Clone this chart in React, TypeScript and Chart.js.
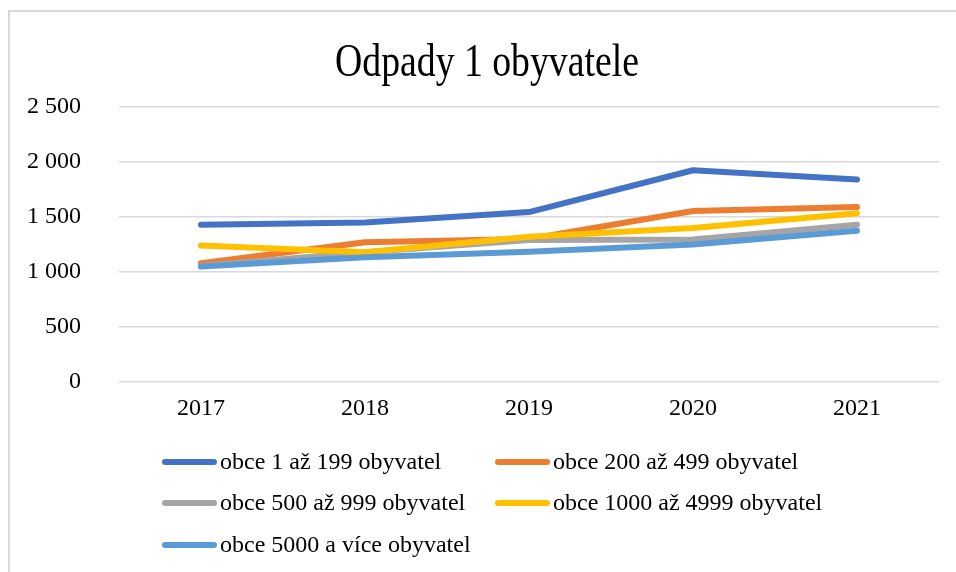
import React, { useEffect, useRef } from "react";
import { Chart, registerables } from "chart.js";

Chart.register(...registerables);

const titleText = "Odpady 1 obyvatele";
const categories = ["2017", "2018", "2019", "2020", "2021"];
const seriesNames = [
  "obce 1 až 199 obyvatel",
  "obce 200 až 499 obyvatel",
  "obce 500 až 999 obyvatel",
  "obce 1000 až 4999 obyvatel",
  "obce 5000 a více obyvatel",
];
const s1 = [1430, 1450, 1545, 1925, 1840];
const s2 = [1080, 1270, 1300, 1555, 1590];
const s3 = [1055, 1180, 1290, 1295, 1430];
const s4 = [1240, 1180, 1320, 1400, 1535];
const s5 = [1050, 1135, 1185, 1250, 1375];
const seriesValues = [s1, s2, s3, s4, s5];
const colors = ["#4472C4", "#ED7D31", "#A5A5A5", "#FFC000", "#5B9BD5"];
const yMin = 0;
const yMax = 2500;
const yStep = 500;

const FONT = "'Liberation Serif', 'Times New Roman', serif";

const fmt = (v: number) => String(v).replace(/\B(?=(\d{3})+(?!\d))/g, " ");

const decorPlugin = {
  id: "decor",
  beforeDraw(chart: any) {
    const ctx = chart.ctx;
    ctx.save();
    ctx.fillStyle = "#ffffff";
    ctx.fillRect(0, 0, chart.width, chart.height);
    ctx.strokeStyle = "#d9d9d9";
    ctx.lineWidth = 2;
    ctx.strokeRect(9, 11, chart.width + 20, chart.height + 20);
    ctx.restore();
  },
  afterDraw(chart: any) {
    const ctx = chart.ctx;
    ctx.save();
    // title
    ctx.fillStyle = "#000000";
    ctx.font = `46px ${FONT}`;
    ctx.textBaseline = "alphabetic";
    ctx.textAlign = "center";
    ctx.translate(487, 76);
    ctx.scale(0.82, 1);
    ctx.fillText(titleText, 0, 0);
    ctx.restore();

    // legend
    ctx.save();
    const colX = [162, 495];
    const rowY = [462, 503, 545];
    const lineLen = 55;
    chart.data.datasets.forEach((ds: any, i: number) => {
      const x = colX[i % 2];
      const y = rowY[Math.floor(i / 2)];
      ctx.strokeStyle = ds.borderColor;
      ctx.lineWidth = 6;
      ctx.lineCap = "round";
      ctx.beginPath();
      ctx.moveTo(x + 3, y);
      ctx.lineTo(x + lineLen - 3, y);
      ctx.stroke();
      ctx.fillStyle = "#000000";
      ctx.font = `24px ${FONT}`;
      ctx.textAlign = "left";
      ctx.textBaseline = "middle";
      ctx.fillText(ds.label, x + lineLen + 3, y + 1);
    });
    ctx.restore();
  },
};

export default function App() {
  const ref = useRef<HTMLCanvasElement | null>(null);
  useEffect(() => {
    if (!ref.current) return;
    const chart = new Chart(ref.current, {
      type: "line",
      data: {
        labels: categories,
        datasets: seriesValues.map((vals, i) => ({
          label: seriesNames[i],
          data: vals,
          borderColor: colors[i],
          backgroundColor: colors[i],
          borderWidth: 6,
          borderCapStyle: "round",
          borderJoinStyle: "round",
          pointRadius: 0,
          pointHoverRadius: 0,
          tension: 0,
          fill: false,
          order: seriesValues.length - i,
        })),
      },
      options: {
        responsive: false,
        animation: false,
        devicePixelRatio: 1,
        layout: { padding: { left: 0, right: 17, top: 107, bottom: 0 } },
        plugins: {
          legend: { display: false },
          title: { display: false },
          tooltip: { enabled: false },
        },
        scales: {
          x: {
            offset: true,
            grid: { display: false, drawTicks: false },
            border: { display: false },
            ticks: {
              color: "#000000",
              font: { family: FONT, size: 24 },
              padding: 12,
              maxRotation: 0,
            },
            afterFit: (s: any) => {
              s.height = 190;
            },
          },
          y: {
            min: yMin,
            max: yMax,
            grid: { color: "#d9d9d9", lineWidth: 1.5, drawTicks: false },
            border: { display: false },
            ticks: {
              stepSize: yStep,
              color: "#000000",
              font: { family: FONT, size: 24 },
              padding: 38,
              callback: (v: any) => fmt(Number(v)),
            },
            afterFit: (s: any) => {
              s.width = 119;
            },
          },
        },
      },
      plugins: [decorPlugin],
    });
    return () => chart.destroy();
  }, []);
  return (
    <div style={{ position: "fixed", left: 0, top: 0, width: 956, height: 572 }}>
      <canvas ref={ref} width={956} height={572} style={{ width: 956, height: 572, display: "block" }} />
    </div>
  );
}
